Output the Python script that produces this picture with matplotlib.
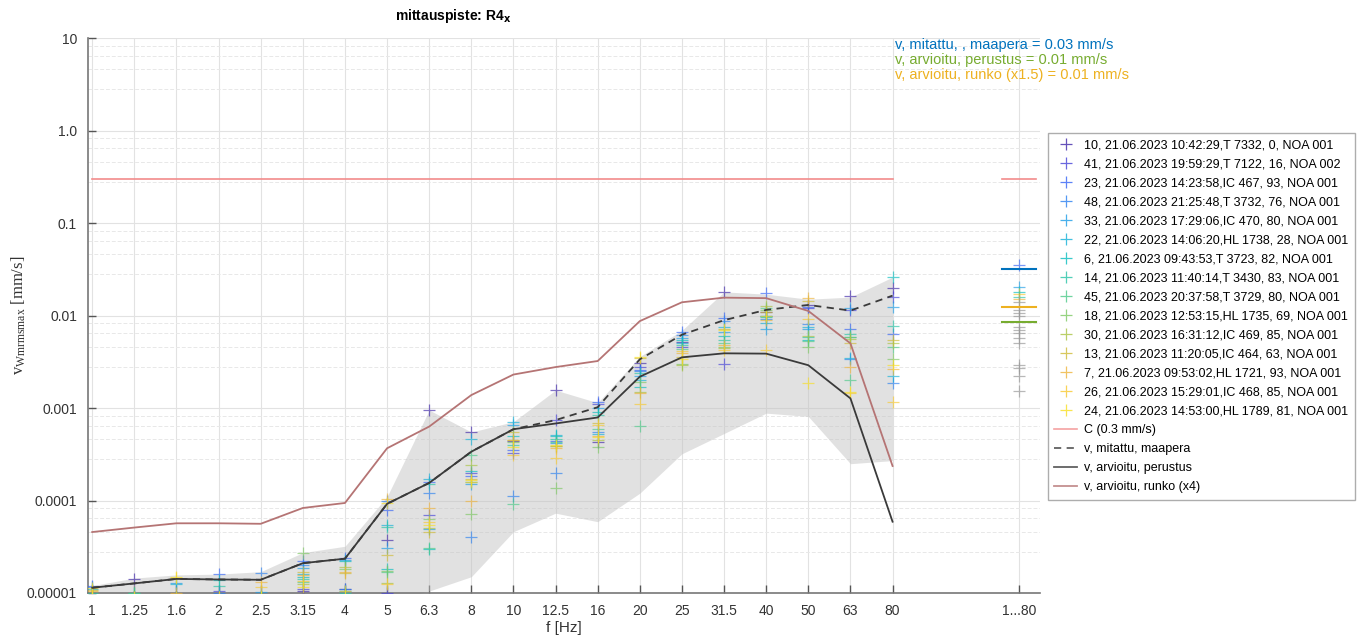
# -*- coding: utf-8 -*-
"""
Mittauspiste R4x - tarinamittaukset terssikaistoittain
"""

import matplotlib
matplotlib.use("Agg")
import matplotlib.pyplot as plt

##############
# Data
##############
taajuudet = ["1", "1.25", "1.6", "2", "2.5", "3.15", "4", "5", "6.3", "8", "10",
             "12.5", "16", "20", "25", "31.5", "40", "50", "63", "80"]
tot_label = "1...80"

# mittausten nimet (legenda)
sarjat = ["10, 21.06.2023 10:42:29,T 7332, 0, NOA 001",
          "41, 21.06.2023 19:59:29,T 7122, 16, NOA 002",
          "23, 21.06.2023 14:23:58,IC 467, 93, NOA 001",
          "48, 21.06.2023 21:25:48,T 3732, 76, NOA 001",
          "33, 21.06.2023 17:29:06,IC 470, 80, NOA 001",
          "22, 21.06.2023 14:06:20,HL 1738, 28, NOA 001",
          "6, 21.06.2023 09:43:53,T 3723, 82, NOA 001",
          "14, 21.06.2023 11:40:14,T 3430, 83, NOA 001",
          "45, 21.06.2023 20:37:58,T 3729, 80, NOA 001",
          "18, 21.06.2023 12:53:15,HL 1735, 69, NOA 001",
          "30, 21.06.2023 16:31:12,IC 469, 85, NOA 001",
          "13, 21.06.2023 11:20:05,IC 464, 63, NOA 001",
          "7, 21.06.2023 09:53:02,HL 1721, 93, NOA 001",
          "26, 21.06.2023 15:29:01,IC 468, 85, NOA 001",
          "24, 21.06.2023 14:53:00,HL 1789, 81, NOA 001"]

# parula-tyyliset värit
varit = ["#3e26a8", "#4541d8", "#3563f5", "#2a80f0", "#1d9de6", "#14b1d8", "#08bdbf",
         "#27c4a6", "#4cca88", "#7dc863", "#a9c342", "#cfbb36", "#eeb43c", "#f8c92f", "#f8df22"]

# mitatut arvot [mm/s], rivi = taajuus, sarake = sarja (sama järjestys kuin legenda)
mitatut = [
    [0.9e-5, 0.85e-5, 1.2e-5, 1.15e-5, 0.95e-5, 1.1e-5, 0.9e-5, 1.0e-5, 0.8e-5, 0.9e-5, 0.95e-5, 1.08e-5, 1.05e-5, 0.9e-5, 1.12e-5],
    [1.4e-5, 0.9e-5, 0.85e-5, 0.9e-5, 0.8e-5, 0.9e-5, 0.85e-5, 1.0e-5, 1.0e-5, 0.9e-5, 0.85e-5, 0.9e-5, 0.8e-5, 0.9e-5, 0.85e-5],
    [0.9e-5, 0.85e-5, 0.9e-5, 0.9e-5, 1.27e-5, 1.25e-5, 0.9e-5, 0.85e-5, 0.9e-5, 0.9e-5, 0.9e-5, 0.85e-5, 1.0e-5, 1.45e-5, 1.5e-5],
    [0.9e-5, 1.05e-5, 1.6e-5, 1.0e-5, 0.9e-5, 0.85e-5, 1.38e-5, 1.2e-5, 0.9e-5, 0.85e-5, 0.9e-5, 0.85e-5, 0.9e-5, 0.9e-5, 0.85e-5],
    [0.9e-5, 0.85e-5, 0.9e-5, 1.65e-5, 1.02e-5, 0.9e-5, 0.85e-5, 0.9e-5, 0.9e-5, 0.85e-5, 0.9e-5, 0.85e-5, 1.3e-5, 1.15e-5, 0.9e-5],
    [1.05e-5, 1.1e-5, 2.2e-5, 2.0e-5, 1.85e-5, 1.6e-5, 1.5e-5, 1.4e-5, 1.3e-5, 2.7e-5, 1.25e-5, 1.7e-5, 1.55e-5, 1.35e-5, 1.15e-5],
    [1.1e-5, 0.9e-5, 2.4e-5, 1.1e-5, 2.3e-5, 1.05e-5, 2.2e-5, 1.0e-5, 0.95e-5, 1.8e-5, 1.9e-5, 1.65e-5, 1.7e-5, 1.05e-5, 0.95e-5],
    [3.7e-5, 1.0e-5, 7.8e-5, 1.0e-4, 3.1e-5, 5.5e-5, 1.8e-5, 5.2e-5, 1.7e-5, 1.75e-5, 1.27e-5, 2.6e-5, 1.05e-4, 1.25e-5, 9.5e-5],
    [9.5e-4, 7.0e-5, 1.6e-4, 1.2e-4, 4.9e-5, 1.7e-4, 3.0e-5, 1.5e-4, 3.1e-5, 6.3e-5, 5.0e-5, 4.6e-5, 8.2e-5, 5.9e-5, 5.5e-5],
    [5.5e-4, 2.0e-4, 1.85e-4, 4.0e-5, 1.5e-4, 4.6e-4, 2.1e-4, 1.6e-4, 3.1e-4, 7.1e-5, 2.4e-4, 1.7e-4, 1.0e-4, 1.6e-4, 1.65e-4],
    [4.4e-4, 3.3e-4, 3.5e-4, 1.12e-4, 6.5e-4, 7.1e-4, 5.0e-4, 4.0e-4, 9.2e-5, 4.3e-4, 4.5e-4, 5.5e-4, 4.5e-4, 3.1e-4, 3.8e-4],
    [1.55e-3, 7.4e-4, 4.4e-4, 1.97e-4, 4.2e-4, 5.1e-4, 5.0e-4, 4.6e-4, 4.3e-4, 1.35e-4, 3.9e-4, 3.9e-4, 3.7e-4, 2.9e-4, 4.0e-4],
    [4.3e-4, 1.1e-3, 1.15e-3, 5.5e-4, 1.0e-3, 5.2e-4, 9.1e-4, 8.5e-4, 6.0e-4, 3.8e-4, 4.5e-4, 6.8e-4, 5.0e-4, 6.5e-4, 4.9e-4],
    [3.1e-3, 2.8e-3, 2.6e-3, 2.5e-3, 2.2e-3, 2.0e-3, 1.7e-3, 2.4e-3, 6.4e-4, 1.9e-3, 1.5e-3, 3.5e-3, 1.46e-3, 1.1e-3, 3.6e-3],
    [5.2e-3, 4.6e-3, 6.6e-3, 6.2e-3, 5.7e-3, 5.0e-3, 5.4e-3, 4.8e-3, 4.3e-3, 3.0e-3, 2.9e-3, 3.6e-3, 3.9e-3, 4.1e-3, 3.4e-3],
    [1.8e-2, 3.0e-3, 9.3e-3, 8.7e-3, 6.6e-3, 7.5e-3, 6.0e-3, 5.4e-3, 5.0e-3, 4.6e-3, 4.4e-3, 7.1e-3, 4.8e-3, 4.2e-3, 6.9e-3],
    [1.1e-2, 1.0e-2, 1.75e-2, 9.2e-3, 7.2e-3, 8.2e-3, 1.0e-2, 9.6e-3, 1.2e-2, 1.15e-2, 1.26e-2, 1.1e-2, 8.9e-3, 4.2e-3, 9.8e-3],
    [1.3e-2, 1.2e-2, 1.23e-2, 8.0e-3, 7.1e-3, 7.6e-3, 5.5e-3, 5.8e-3, 5.3e-3, 4.6e-3, 6.0e-3, 1.45e-2, 1.55e-2, 9.1e-3, 1.85e-3],
    [1.62e-2, 1.15e-2, 7.1e-3, 3.4e-3, 1.2e-2, 3.5e-3, 5.9e-3, 6.3e-3, 2.0e-3, 5.9e-3, 5.6e-3, 5.1e-3, 2.76e-3, 1.46e-3, 1.5e-3],
    [2.0e-2, 1.6e-2, 6.3e-3, 1.88e-3, 1.25e-2, 2.2e-3, 2.63e-2, 7.7e-3, 4.6e-3, 3.4e-3, 5.0e-3, 5.4e-3, 2.62e-3, 1.17e-3, 2.9e-3],
]

# kokonaisarvot 1...80 Hz (värilliset = sarjan indeksi, loput harmaina)
tot_sarja = [2, 4, 6, 13, 7, 12]
tot_arvo = [0.035, 0.0205, 0.0179, 0.017, 0.0159, 0.0149]
tot_harmaat = [0.0141, 0.0115, 0.0106, 0.0098, 0.0076, 0.0070, 0.0064, 0.0057,
               0.0050, 0.0029, 0.0027, 0.0022, 0.00153]

# harmaa vaihteluväli
vali_ala = [0.8e-5, 0.8e-5, 0.8e-5, 0.8e-5, 0.8e-5, 0.8e-5, 0.8e-5, 0.8e-5, 1.05e-5, 1.5e-5,
            4.6e-5, 7.3e-5, 5.9e-5, 1.2e-4, 3.2e-4, 5.3e-4, 8.8e-4, 8.1e-4, 2.5e-4, 2.7e-4]
vali_yla = [1.2e-5, 1.45e-5, 1.57e-5, 1.6e-5, 1.7e-5, 2.73e-5, 3.2e-5, 1.1e-4, 9.5e-4, 5.5e-4,
            7.1e-4, 1.56e-3, 1.14e-3, 3.6e-3, 6.9e-3, 1.8e-2, 1.7e-2, 1.5e-2, 1.58e-2, 2.6e-2]

# käyrät
maapera = [1.14e-5, 1.27e-5, 1.42e-5, 1.4e-5, 1.39e-5, 2.1e-5, 2.35e-5, 9.2e-5, 1.55e-4, 3.37e-4,
           5.9e-4, 7.4e-4, 1.02e-3, 3.36e-3, 6.2e-3, 8.9e-3, 1.15e-2, 1.3e-2, 1.13e-2, 1.64e-2]
perustus = [1.14e-5, 1.27e-5, 1.42e-5, 1.4e-5, 1.39e-5, 2.1e-5, 2.35e-5, 9.2e-5, 1.55e-4, 3.37e-4,
            5.9e-4, 6.8e-4, 7.9e-4, 2.18e-3, 3.53e-3, 3.9e-3, 3.87e-3, 2.9e-3, 1.27e-3, 5.9e-5]
runko = [4.56e-5, 5.1e-5, 5.67e-5, 5.67e-5, 5.6e-5, 8.3e-5, 9.4e-5, 3.67e-4, 6.3e-4, 1.38e-3,
         2.3e-3, 2.77e-3, 3.22e-3, 8.7e-3, 1.39e-2, 1.56e-2, 1.54e-2, 1.12e-2, 5.0e-3, 2.36e-4]
raja_C = 0.3

# kokonaisarvot (vaakaviivat 1...80)
tot_maapera = 0.032
tot_runko = 0.0125
tot_perustus = 0.0085

##############
# Kuva
##############
plt.rcParams['font.family'] = ['Liberation Sans', 'DejaVu Sans']
fig = plt.figure(figsize=(13.63, 6.4), dpi=100)
ax = fig.add_axes([88/1363, 47/640, 952/1363, 555/640])

x = list(range(len(taajuudet)))
x_tot = 22

ax.fill_between(x, vali_ala, vali_yla, color="#c4c4c4", alpha=0.5, lw=0, zorder=1)

for j, nimi in enumerate(sarjat):
    arvot = [rivi[j] for rivi in mitatut]
    ax.plot(x, arvot, '+', color=varit[j], alpha=0.65, ms=9, mew=0.9, label=nimi, zorder=3)

for s, v in zip(tot_sarja, tot_arvo):
    ax.plot(x_tot, v, '+', color=varit[s], alpha=0.65, ms=9, mew=0.9, zorder=3)
ax.plot([x_tot]*len(tot_harmaat), tot_harmaat, '+', color="#9a9a9a", alpha=0.7, ms=9, mew=0.9, zorder=3)

ax.plot(x, [raja_C]*len(x), color="#f28b8b", lw=1.2, label="C (0.3 mm/s)", zorder=4)
ax.plot([x_tot-0.4, x_tot+0.4], [raja_C, raja_C], color="#f28b8b", lw=1.2, zorder=4)
ax.plot(x, maapera, '--', color="#3a3a3a", lw=1.3, dashes=(4, 3), label="v, mitattu, maapera", zorder=5)
ax.plot(x, perustus, '-', color="#3a3a3a", lw=1.3, label="v, arvioitu, perustus", zorder=5)
ax.plot(x, runko, '-', color="#b57474", lw=1.3, label="v, arvioitu, runko (x4)", zorder=5)

ax.plot([x_tot-0.4, x_tot+0.4], [tot_maapera]*2, color="#0072bd", lw=1.5, zorder=6)
ax.plot([x_tot-0.4, x_tot+0.4], [tot_runko]*2, color="#edb120", lw=1.5, zorder=6)
ax.plot([x_tot-0.4, x_tot+0.4], [tot_perustus]*2, color="#77ac30", lw=1.5, zorder=6)

# akselit
ax.set_yscale('log')
ax.set_ylim(1e-5, 10)
ax.set_xlim(-0.1, 22.5)
ax.set_xticks(x + [x_tot])
ax.set_xticklabels(taajuudet + [tot_label])
ax.set_yticks([1e-5, 1e-4, 1e-3, 1e-2, 1e-1, 1, 10])
ax.set_yticklabels(["0.00001", "0.0001", "0.001", "0.01", "0.1", "1.0", "10"])
minorit = [d*k for d in [1e-5, 1e-4, 1e-3, 1e-2, 1e-1, 1] for k in [2.8, 4.6, 6.4, 8.2]]
ax.set_yticks(minorit, minor=True)
ax.tick_params(axis='both', which='major', direction='in', length=6, width=1,
               colors="#555555", labelsize=10, labelcolor="#333333", pad=8)
ax.tick_params(axis='y', which='minor', length=0)
ax.grid(which='major', color="#e2e2e2", lw=0.8)
ax.grid(which='minor', axis='y', color="#e8e8e8", lw=0.7, ls=(0, (4, 2)))
ax.set_axisbelow(True)
for s in ['top', 'right']:
    ax.spines[s].set_visible(False)
for s in ['left', 'bottom']:
    ax.spines[s].set_color("#777777")
    ax.spines[s].set_linewidth(1.2)

ax.set_xlabel("f [Hz]", fontsize=11, color="#333333", labelpad=2)
ax.set_ylabel(r"$\mathregular{v_{Wmrmsmax}}$ [mm/s]", fontsize=12, family="Liberation Serif",
              color="#333333", labelpad=-1)
fig.text(453/1363, 1-16/640, r"mittauspiste: R4$_\mathbf{x}$", ha='center', va='center',
         fontsize=10, fontweight='bold')

# kokonaisarvot tekstinä
fig.text(895/1363, 1-45/640, "v, mitattu, , maapera = 0.03 mm/s", color="#0072bd", fontsize=10.5, va='center')
fig.text(895/1363, 1-60/640, "v, arvioitu, perustus = 0.01 mm/s", color="#77ac30", fontsize=10.5, va='center')
fig.text(895/1363, 1-75/640, "v, arvioitu, runko (x1.5) = 0.01 mm/s", color="#edb120", fontsize=10.5, va='center')

leg = fig.legend(loc='upper left', bbox_to_anchor=(1048/1363, 1-133/640), fontsize=9,
                 frameon=True, fancybox=False, edgecolor="#999999", handlelength=1.8,
                 borderaxespad=0, labelspacing=0.56, borderpad=0.5, handletextpad=0.6)
for lh in leg.legend_handles:
    lh.set_alpha(0.8)

fig.savefig("out.png", dpi=100)
